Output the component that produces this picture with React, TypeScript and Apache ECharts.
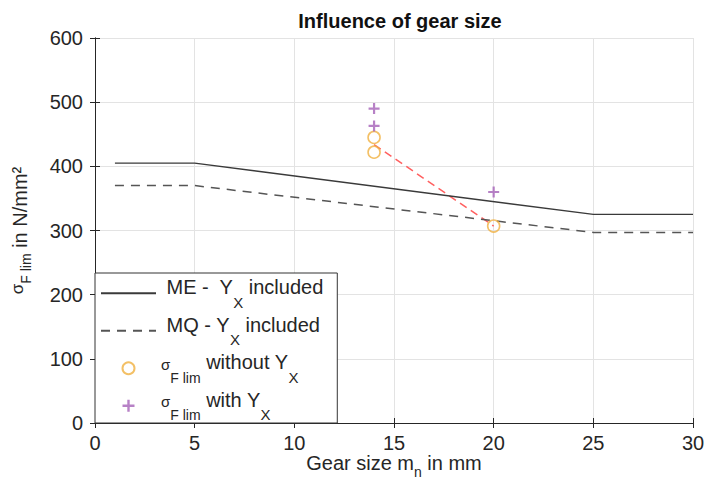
import React, { useEffect, useRef } from "react";
import * as echarts from "echarts";

const lineX = [1, 5, 25, 30];
const meValues = [405, 405, 325, 325];
const mqValues = [370, 370, 297, 297];
const pointX = [14, 14, 20];
const withoutYx = [445, 422, 307];
const withYx = [490, 463, 360];
const trendX = [14, 20];
const trendY = [434, 307];
const xTicks = [0, 5, 10, 15, 20, 25, 30];
const yTicks = [0, 100, 200, 300, 400, 500, 600];

const FONT = "Liberation Sans";
const TXT = "#262626";
const PLUS = "path://M4,0 L6,0 L6,4 L10,4 L10,6 L6,6 L6,10 L4,10 L4,6 L0,6 L0,4 L4,4 Z";

const pairs = (xs: number[], ys: number[]) => xs.map((x, i) => [x, ys[i]]);

export default function App() {
  const ref = useRef<HTMLDivElement>(null);
  useEffect(() => {
    if (!ref.current) return;
    const chart = echarts.init(ref.current, undefined, { renderer: "svg" });
    const rich = {
      t: { fontSize: 20, fontFamily: FONT, color: TXT, padding: [0, 0, 12.5, 0] },
      s: { fontSize: 15, fontFamily: FONT, color: TXT, padding: [17.5, 0, 0, 0] },
      g: { fontSize: 15, fontFamily: FONT, color: TXT, padding: [0, 0, 8.5, 0] },
      gs: { fontSize: 14, fontFamily: FONT, color: TXT, padding: [18.5, 0, 0, 0] },
    };
    const legendText: Record<string, string> = {
      me: "{t| ME -  Y}{s|X}{t| included}",
      mq: "{t| MQ - Y}{s|X}{t| included}",
      wo: "{g|σ}{gs|F lim}{t| without Y}{s|X}",
      wi: "{g|σ}{gs|F lim}{t| with Y}{s|X}",
    };
    const axisCommon = {
      type: "value" as const,
      axisLine: { show: true, lineStyle: { color: TXT, width: 1 } },
      axisTick: { show: true, inside: true, length: 5, lineStyle: { color: TXT } },
    };
    chart.setOption({
      animation: false,
      backgroundColor: "#ffffff",
      title: {
        text: "Influence of gear size",
        left: 395,
        top: 6,
        textAlign: "center",
        textStyle: { fontFamily: FONT, fontSize: 20, fontWeight: "bold", color: "#111" },
      },
      grid: { left: 95, right: 27, top: 38, bottom: 58, containLabel: false, outerBoundsMode: "none" },
      xAxis: [
        {
          ...axisCommon,
          position: "bottom",
          min: xTicks[0],
          max: xTicks[xTicks.length - 1],
          interval: 5,
          axisLabel: { fontSize: 20, fontFamily: FONT, color: TXT, margin: 10 },
          splitLine: { show: true, lineStyle: { color: "#e3e3e3", width: 1 } },
          name: "{t|Gear size m}{s|n}{t| in mm}",
          nameLocation: "middle",
          nameGap: 30,
          nameMoveOverlap: false,
          nameTextStyle: {
            rich: {
              t: { fontSize: 20, fontFamily: FONT, color: TXT, padding: [0, 0, 6, 0] },
              s: { fontSize: 14, fontFamily: FONT, color: TXT, padding: [12, 0, 0, 0] },
            },
          },
        },
        {
          ...axisCommon,
          position: "top",
          min: xTicks[0],
          max: xTicks[xTicks.length - 1],
          interval: 5,
          axisLabel: { show: false },
          splitLine: { show: false },
        },
      ],
      yAxis: [
        {
          ...axisCommon,
          position: "left",
          min: yTicks[0],
          max: yTicks[yTicks.length - 1],
          interval: 100,
          axisLabel: { fontSize: 20, fontFamily: FONT, color: TXT, margin: 12 },
          splitLine: { show: true, lineStyle: { color: "#e3e3e3", width: 1 } },
          name: "{g|σ}{gs|F lim}{t| in N/mm²}",
          nameLocation: "middle",
          nameRotate: 90,
          nameGap: 62,
          nameMoveOverlap: false,
          nameTextStyle: {
            rich: {
              t: { fontSize: 20, fontFamily: FONT, color: TXT, padding: [0, 0, 3, 0] },
              g: { fontSize: 17, fontFamily: FONT, color: TXT, padding: [0, 0, 7, 0] },
              gs: { fontSize: 14, fontFamily: FONT, color: TXT, padding: [9, 0, 0, 0] },
            },
          },
        },
        {
          ...axisCommon,
          position: "right",
          min: yTicks[0],
          max: yTicks[yTicks.length - 1],
          interval: 100,
          axisLabel: { show: false },
          splitLine: { show: false },
        },
      ],
      legend: {
        orient: "vertical",
        left: 95,
        top: 273,
        padding: [4, 14, 1, 5],
        itemGap: 5,
        itemWidth: 55,
        itemHeight: 12,
        backgroundColor: "#ffffff",
        borderColor: "#333333",
        borderWidth: 1,
        borderRadius: 0,
        textStyle: { rich },
        formatter: (name: string) => legendText[name],
        data: [
          { name: "me", itemStyle: { opacity: 0 } },
          { name: "mq", itemStyle: { opacity: 0 } },
          { name: "wo" },
          { name: "wi" },
        ],
      },
      series: [
        {
          name: "trend",
          type: "line",
          data: pairs(trendX, trendY),
          symbol: "none",
          lineStyle: { color: "#ff6060", width: 1.5, type: [8, 5] },
          z: 3,
        },
        {
          name: "me",
          type: "line",
          data: pairs(lineX, meValues),
          symbol: "none",
          lineStyle: { color: "#3a3a3a", width: 1.3 },
          itemStyle: { color: "#3a3a3a" },
        },
        {
          name: "mq",
          type: "line",
          data: pairs(lineX, mqValues),
          symbol: "none",
          lineStyle: { color: "#555555", width: 1.5, type: [9, 7] },
          itemStyle: { color: "#555555" },
        },
        {
          name: "wo",
          type: "scatter",
          data: pairs(pointX, withoutYx),
          symbol: "circle",
          symbolSize: 12,
          itemStyle: { color: "rgba(0,0,0,0)", borderColor: "#f0b040", borderWidth: 1.6 },
          z: 4,
        },
        {
          name: "wi",
          type: "scatter",
          data: pairs(pointX, withYx),
          symbol: PLUS,
          symbolSize: 11,
          itemStyle: { color: "#a561b8" },
          z: 4,
        },
      ],
    });
    return () => chart.dispose();
  }, []);
  return (
    <div
      ref={ref}
      style={{ position: "fixed", left: 0, top: 0, width: 720, height: 481 }}
    />
  );
}
